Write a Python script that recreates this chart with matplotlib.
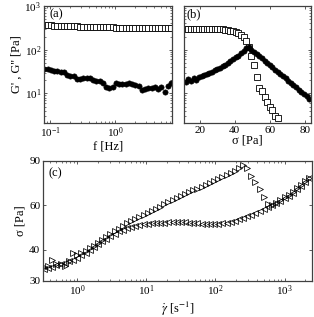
import numpy as np
import matplotlib
matplotlib.use("Agg")
import matplotlib.pyplot as plt
from matplotlib.ticker import LogLocator, NullFormatter, FixedLocator, FixedFormatter, NullLocator

plt.rcParams['font.family'] = ['Liberation Serif', 'DejaVu Serif']
plt.rcParams['mathtext.fontset'] = 'stix'
plt.rcParams['font.size'] = 8

# ---------------- data (a): frequency sweep ----------------
freq_a = [0.0813, 0.0912, 0.102, 0.115, 0.129, 0.145, 0.162, 0.182, 0.204, 0.229,
          0.257, 0.288, 0.324, 0.363, 0.407, 0.457, 0.513, 0.575, 0.646, 0.724,
          0.813, 0.912, 1.02, 1.15, 1.29, 1.45, 1.62, 1.82, 2.04, 2.29,
          2.57, 2.88, 3.24, 3.63, 4.07, 4.57, 5.13, 5.75, 6.46, 7.24]
Gp_a = [365, 362, 360, 357, 355, 352, 350, 347, 344, 342,
        340, 338, 336, 334, 332, 330, 329, 327, 326, 325,
        324, 323, 322, 321, 320, 319, 318, 317, 316, 315,
        314, 313, 312, 312, 311, 310, 310, 309, 309, 308]
Gpp_a = [36, 36, 34, 32.5, 32.5, 31, 31, 26.3, 25, 25,
         21.5, 21.5, 22, 22, 22.5, 20.5, 19.5, 19.5, 17.6, 14.3,
         13.6, 14, 17.6, 16.7, 16.3, 16.7, 17.6, 16.7, 15.8, 15.1,
         11.7, 12.9, 13.6, 13.6, 14, 12.9, 14.3, 10.5, 15, 17.6]

# ---------------- data (b): stress amplitude sweep ----------------
sigma_b = [12.0, 13.5, 15.0, 16.5, 18.0, 19.5, 21.0, 22.5, 24.0, 25.5,
           27.0, 28.5, 30.0, 31.5, 33.0, 34.5, 36.0, 37.5, 39.0, 40.5,
           42.0, 43.5, 45.0, 46.5, 48.0, 49.5, 51.0, 52.5, 54.0, 55.5,
           57.0, 58.5, 60.0, 61.5, 63.0, 64.5, 66.0, 67.5, 69.0, 70.5,
           72.0, 73.5, 75.0, 76.5, 78.0, 79.5, 81.0, 82.5]
Gp_b = [300, 299, 299, 298, 298, 297, 297, 296, 296, 295,
        295, 294, 293, 293, 290, 285, 281, 274, 265, 251,
        239, 221, 194, 158, 117, 70, 44, 24, 13.6, 11.1,
        8.1, 6.3, 4.9, 4.2, 3.1, 2.7]
Gpp_b = [18.5, 21, 19.4, 22.7, 20, 23.9, 24.4, 26, 27.8, 29.6,
         31.6, 33.6, 36, 38.2, 41.5, 45, 49.4, 54, 60, 66.4,
         73.6, 83.6, 95, 111, 114, 100, 89, 79.4, 70.6, 63,
         56, 49.9, 44.4, 39.5, 35, 31.1, 27.7, 24.7, 22, 19.5,
         17.4, 15.5, 13.7, 12.2, 10.9, 9.65, 8.6, 7.6]

# ---------------- data (c): flow curves ----------------
rate_c = [0.331, 0.380, 0.437, 0.501, 0.575, 0.661, 0.759, 0.871, 1.00, 1.15,
          1.32, 1.51, 1.74, 2.00, 2.29, 2.63, 3.02, 3.47, 3.98, 4.57,
          5.25, 6.03, 6.92, 7.94, 9.12, 10.5, 12.0, 13.8, 15.8, 18.2,
          20.9, 24.0, 27.5, 31.6, 36.3, 41.7, 47.9, 55.0, 63.1, 72.4,
          83.2, 95.5, 110, 126, 145, 166, 191, 219, 251, 288,
          331, 380, 437, 501, 575, 661, 759, 871, 1000, 1150,
          1320, 1510, 1740, 2000, 2290]
sigma_up = [34.0, 34.3, 36.4, 34.9, 35.2, 34.5, 36.0, 38.6, 37.9, 38.6,
            39.5, 40.5, 41.5, 42.6, 43.7, 44.9, 46.1, 47.3, 48.5, 49.7,
            50.9, 52.0, 53.1, 54.1, 55.0, 56.0, 57.0, 58.1, 59.3, 60.5,
            61.7, 62.8, 64.0, 65.1, 66.3, 67.5, 68.7, 69.9, 71.2, 72.5,
            73.8, 75.2, 76.6, 78.0, 79.5, 81.0, 82.4, 84.6, 86.8, 84.5,
            78.8, 74.0, 69.5, 65.0, 60.5, 60.3, 61.5, 63.0, 64.5, 66.0,
            67.8, 70.0, 72.3, 74.8, 77.2]
sigma_down = [33.4, 33.8, 34.2, 34.6, 35.0, 35.4, 35.9, 36.5, 37.2, 38.0,
              38.9, 39.9, 40.9, 42.0, 43.1, 44.2, 45.3, 46.3, 47.2, 48.0,
              48.7, 49.3, 49.8, 50.2, 50.5, 50.7, 50.8, 50.9, 51.0, 51.1,
              51.3, 51.4, 51.5, 51.5, 51.4, 51.2, 51.0, 50.8, 50.7, 50.6,
              50.6, 50.6, 50.7, 50.9, 51.2, 51.6, 52.1, 52.7, 53.4, 54.2,
              55.0, 55.9, 56.8, 57.8, 58.8, 59.9, 61.1, 62.5, 64.0, 65.6,
              67.4, 69.5, 71.8, 74.3, 76.8]

axcol = '#404040'
lab_fs = 9

fig = plt.figure(figsize=(3.14, 3.17), dpi=100)
W, H = 314.0, 317.0
def rect(l, r, t, b):
    return [l / W, (H - b) / H, (r - l) / W, (b - t) / H]

ax_a = fig.add_axes(rect(44, 172, 6, 123))
ax_b = fig.add_axes(rect(184, 311, 6, 123))
ax_c = fig.add_axes(rect(43, 312, 161, 281))

def style(ax):
    for s in ax.spines.values():
        s.set_color(axcol)
        s.set_linewidth(0.9)
    ax.tick_params(which='both', direction='in', top=True, right=True,
                   colors=axcol, labelcolor='black', labelsize=8, pad=2)
    ax.tick_params(which='major', length=2.5, width=0.6)
    ax.tick_params(which='minor', length=1.5, width=0.5)

ms_sq = 3.8
ms_ci = 3.8

# (a)
ax_a.loglog(freq_a, Gp_a, 's', mfc='white', mec='black', mew=0.6, ms=ms_sq, ls='none')
ax_a.loglog(freq_a, Gpp_a, 'o', mfc='black', mec='black', mew=0.4, ms=ms_ci, ls='none')
ax_a.set_xlim(0.08, 7.5)
ax_a.set_ylim(2.1, 1000)
ax_a.set_xticks([0.1, 1])
ax_a.set_yticks([10, 100, 1000])
ax_a.xaxis.set_minor_locator(LogLocator(base=10, subs=np.arange(2, 10), numticks=20))
ax_a.yaxis.set_minor_locator(LogLocator(base=10, subs=np.arange(2, 10), numticks=20))
ax_a.xaxis.set_minor_formatter(NullFormatter())
ax_a.yaxis.set_minor_formatter(NullFormatter())
ax_a.set_xlabel('f [Hz]', labelpad=0, fontsize=lab_fs)
ax_a.set_ylabel("G' , G'' [Pa]", labelpad=1, fontsize=lab_fs)
ax_a.text(0.04, 0.98, '(a)', transform=ax_a.transAxes, ha='left', va='top', fontsize=lab_fs)
style(ax_a)

# (b)
ax_b.semilogy(sigma_b[:len(Gp_b)], Gp_b, 's', mfc='white', mec='black', mew=0.6, ms=ms_sq, ls='none')
ax_b.semilogy(sigma_b, Gpp_b, 'o', mfc='black', mec='black', mew=0.4, ms=ms_ci, ls='none')
ax_b.set_xlim(11, 83.5)
ax_b.set_ylim(2.1, 1000)
ax_b.set_xticks([20, 40, 60, 80])
ax_b.set_yticks([10, 100, 1000])
ax_b.yaxis.set_minor_locator(LogLocator(base=10, subs=np.arange(2, 10), numticks=20))
ax_b.set_yticklabels([])
ax_b.yaxis.set_minor_formatter(NullFormatter())
ax_b.set_xlabel('σ [Pa]', labelpad=0, fontsize=lab_fs)
ax_b.text(0.02, 0.98, '(b)', transform=ax_b.transAxes, ha='left', va='top', fontsize=lab_fs)
style(ax_b)

# (c)
ax_c.plot(rate_c, sigma_up, '>', mfc='none', mec='black', mew=0.55, ms=5, ls='none')
ax_c.plot(rate_c, sigma_down, '<', mfc='none', mec='black', mew=0.55, ms=5, ls='none')
ax_c.set_xscale('log')
ax_c.set_yscale('log')
ax_c.set_xlim(0.32, 2500)
ax_c.set_ylim(30, 90)
ax_c.set_xticks([1, 10, 100, 1000])
ax_c.xaxis.set_minor_locator(LogLocator(base=10, subs=np.arange(2, 10), numticks=20))
ax_c.xaxis.set_minor_formatter(NullFormatter())
ax_c.yaxis.set_major_locator(FixedLocator([30, 40, 60, 90]))
ax_c.yaxis.set_major_formatter(FixedFormatter(['30', '40', '60', '90']))
ax_c.yaxis.set_minor_locator(NullLocator())
ax_c.set_xlabel(r'$\dot{\gamma}$ [s$^{-1}$]', labelpad=1, fontsize=lab_fs)
ax_c.set_ylabel('σ [Pa]', labelpad=2, fontsize=lab_fs)
ax_c.text(0.02, 0.95, '(c)', transform=ax_c.transAxes, ha='left', va='top', fontsize=lab_fs)
style(ax_c)

fig.savefig('out.png', dpi=100)
